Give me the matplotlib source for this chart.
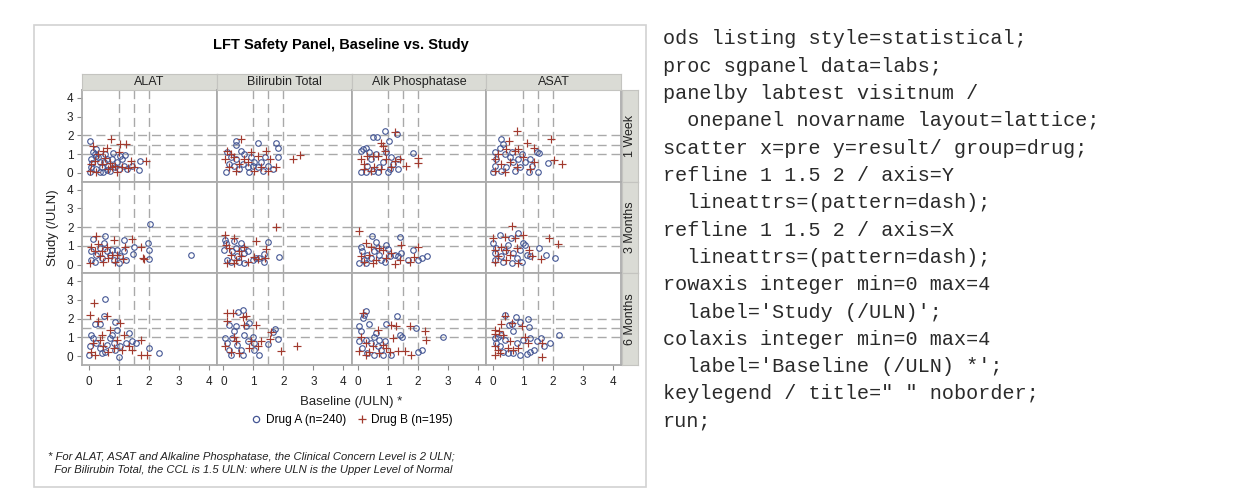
import matplotlib
matplotlib.use('Agg')
import matplotlib.pyplot as plt
from matplotlib.lines import Line2D
from matplotlib.patches import Rectangle

# panel categories
tests = ['ALAT', 'Bilirubin Total', 'Alk Phosphatase', 'ASAT']
visits = ['1 Week', '3 Months', '6 Months']
ref_values = [1, 1.5, 2]
axis_ticks = [0, 1, 2, 3, 4]
legend_labels = ['Drug A (n=240)', 'Drug B (n=195)']

# (baseline, study) points, one list per panel and drug
alat_w1_a = [(0.03, 1.70), (0.15, 1.12), (0.26, 1.26), (0.20, 1.00), (0.09, 0.74), (0.07, 0.30), (0.03, 0.03),
             (0.32, 0.82), (0.38, 0.56), (0.43, 0.30), (0.49, 0.03), (0.55, 1.00), (0.60, 0.74), (0.66, 0.39),
             (0.77, 0.74), (0.89, 0.30), (0.94, 0.56), (1.06, 0.91), (1.11, 0.74), (1.20, 0.95), (1.17, 0.39),
             (1.28, 0.21), (1.45, 0.39), (1.70, 0.61), (1.68, 0.16), (0.38, 0.03), (0.26, 0.21), (0.72, 0.12),
             (1.00, 0.21), (0.12, 0.50), (0.50, 0.60), (0.82, 1.05), (0.25, 0.90), (0.62, 0.15)]
alat_w1_b = [(0.75, 1.82), (1.06, 1.53), (1.26, 1.53), (0.15, 1.44), (0.60, 1.35), (0.49, 1.18), (1.00, 1.09),
             (0.09, 0.47), (0.20, 0.65), (0.43, 0.47), (0.77, 0.30), (0.89, 0.39), (1.40, 0.61), (1.51, 0.30),
             (1.91, 0.65), (0.03, 0.12), (0.26, 0.03), (0.66, 0.21), (1.11, 0.30), (0.55, 0.79), (0.32, 1.00),
             (0.95, 0.05), (1.30, 0.25), (0.70, 0.55)]
bili_w1_a = [(0.41, 1.70), (0.43, 1.49), (1.15, 1.58), (1.77, 1.58), (1.83, 1.35), (1.83, 0.82), (0.13, 1.09),
             (0.24, 0.82), (0.10, 0.03), (0.35, 0.39), (0.64, 0.47), (0.58, 1.18), (0.69, 1.00), (0.92, 0.82),
             (0.98, 0.39), (0.86, 0.03), (1.15, 0.30), (1.26, 0.56), (1.38, 0.82), (1.49, 0.39), (1.66, 0.21),
             (1.32, 0.12), (1.03, 0.56), (0.81, 0.30), (0.52, 0.21), (0.18, 0.47), (0.41, 0.74)]
bili_w1_b = [(0.58, 1.79), (1.43, 1.14), (2.31, 0.74), (2.55, 0.95), (0.13, 1.18), (0.24, 1.00), (0.07, 0.74),
             (0.35, 0.82), (0.18, 0.30), (0.41, 0.12), (0.69, 0.74), (0.81, 0.56), (1.03, 0.12), (1.26, 0.30),
             (1.49, 0.12), (1.77, 0.30), (1.55, 0.74), (0.92, 1.09), (0.52, 0.47), (1.15, 0.91)]
alkp_w1_a = [(0.90, 2.23), (0.48, 1.91), (0.63, 1.91), (1.02, 1.70), (1.30, 2.05), (1.82, 1.04), (0.08, 1.18),
             (0.16, 1.26), (0.25, 1.35), (0.36, 1.09), (0.08, 0.03), (0.25, 0.03), (0.48, 0.12), (0.70, 0.30),
             (0.99, 0.03), (1.16, 0.47), (1.33, 0.74), (1.10, 0.82), (0.93, 1.09), (0.59, 1.00), (0.31, 0.39),
             (0.82, 0.56), (1.33, 0.21), (0.65, 0.03), (0.42, 0.74), (1.05, 0.21)]
alkp_w1_b = [(1.22, 2.18), (0.76, 1.61), (0.88, 1.18), (0.08, 0.74), (0.20, 0.47), (0.31, 0.91), (0.48, 0.91),
             (0.65, 0.91), (0.53, 0.30), (0.76, 0.21), (0.93, 0.74), (1.22, 0.65), (1.39, 0.74), (1.61, 0.39),
             (2.01, 0.79), (2.01, 0.51), (0.42, 0.12), (0.20, 0.21), (1.10, 0.30), (0.82, 1.44)]
asat_w1_a = [(0.28, 1.79), (0.34, 1.53), (0.25, 1.35), (0.06, 1.09), (0.11, 0.74), (0.06, 0.39), (0.00, 0.03),
             (0.40, 1.00), (0.57, 0.82), (0.68, 0.56), (0.85, 0.74), (0.91, 0.30), (0.74, 0.12), (1.08, 0.56),
             (1.19, 0.03), (1.25, 0.74), (1.48, 1.09), (1.53, 1.04), (1.50, 0.03), (1.84, 0.51), (0.45, 0.30),
             (0.63, 1.09), (0.28, 0.12), (0.97, 1.00), (1.31, 0.39)]
asat_w1_b = [(0.80, 2.23), (0.55, 1.70), (1.14, 1.58), (1.36, 1.35), (1.95, 1.79), (2.05, 0.68), (2.30, 0.47),
             (0.06, 0.74), (0.17, 1.00), (0.45, 1.26), (0.74, 1.18), (0.85, 1.26), (0.28, 0.47), (0.06, 0.12),
             (0.40, 0.03), (0.80, 0.30), (1.02, 0.82), (1.25, 0.21), (1.36, 0.56), (0.57, 0.56)]

alat_m3_a = [(2.06, 2.16), (1.99, 1.14), (2.02, 0.75), (2.00, 0.29), (1.51, 0.91), (1.49, 0.57), (3.41, 0.52),
             (1.19, 1.32), (0.13, 1.36), (0.55, 1.50), (0.52, 1.14), (0.09, 0.70), (0.07, 0.25), (0.26, 0.52),
             (0.38, 0.88), (0.43, 0.34), (0.60, 0.70), (0.72, 0.52), (0.77, 0.79), (0.83, 0.25), (1.00, 0.07),
             (1.06, 0.43), (1.17, 0.70), (1.23, 0.25), (0.94, 0.79), (0.20, 0.16)]
alat_m3_b = [(0.24, 1.54), (0.32, 1.11), (0.83, 1.32), (1.45, 1.36), (1.74, 0.96), (1.85, 0.29), (1.80, 0.34),
             (0.09, 0.96), (0.03, 0.07), (0.20, 0.70), (0.38, 0.43), (0.49, 0.16), (0.66, 0.34), (0.77, 0.52),
             (0.89, 0.16), (1.14, 0.29), (1.20, 0.93), (0.60, 0.96), (0.43, 0.70), (0.94, 0.52)]
bili_m3_a = [(0.07, 1.32), (0.10, 1.14), (0.03, 0.79), (0.13, 0.25), (0.35, 1.23), (0.58, 1.14), (0.64, 0.88),
             (0.69, 0.61), (0.47, 0.43), (0.24, 0.16), (0.52, 0.16), (0.69, 0.07), (0.83, 0.70), (0.98, 0.25),
             (1.09, 0.34), (1.20, 0.34), (1.34, 0.57), (1.35, 0.11), (1.49, 1.18), (1.86, 0.39), (0.30, 0.70),
             (0.41, 0.88)]
bili_m3_b = [(0.05, 1.59), (0.35, 1.41), (1.74, 2.00), (1.43, 0.84), (1.09, 1.23), (0.10, 1.05), (0.18, 0.88),
             (0.24, 0.52), (0.13, 0.07), (0.41, 0.25), (0.58, 0.43), (0.81, 0.16), (1.03, 0.39), (1.15, 0.29),
             (1.38, 0.34), (0.52, 0.70), (0.69, 0.96), (0.35, 0.07)]
alkp_m3_a = [(0.45, 1.50), (0.59, 1.18), (0.93, 1.05), (0.99, 0.82), (1.41, 1.46), (1.84, 0.75), (2.30, 0.43),
             (0.08, 0.96), (0.14, 0.70), (0.02, 0.07), (0.19, 0.25), (0.31, 0.52), (0.42, 0.34), (0.53, 0.70),
             (0.70, 0.52), (0.76, 0.25), (0.88, 0.11), (1.05, 0.43), (1.22, 0.52), (1.33, 0.43), (1.44, 0.61),
             (1.67, 0.25), (2.01, 0.25), (2.13, 0.34), (0.25, 0.07), (0.65, 0.88)]
alkp_m3_b = [(0.02, 1.77), (0.25, 1.14), (0.42, 0.96), (0.70, 0.88), (0.82, 0.75), (1.44, 1.05), (2.01, 0.96),
             (1.39, 0.25), (1.22, 0.04), (1.73, 0.11), (1.86, 0.39), (0.08, 0.43), (0.19, 0.16), (0.36, 0.52),
             (0.59, 0.25), (0.93, 0.34), (1.10, 0.61), (0.48, 0.07)]
asat_m3_a = [(0.23, 1.59), (0.60, 1.41), (0.85, 1.68), (0.00, 1.14), (0.11, 0.88), (0.06, 0.61), (0.06, 0.25),
             (0.28, 0.43), (0.40, 0.70), (0.51, 1.05), (0.68, 0.61), (0.80, 0.34), (0.63, 0.07), (0.91, 0.79),
             (1.02, 1.14), (1.08, 1.05), (1.14, 0.52), (1.25, 0.43), (1.53, 0.88), (1.76, 0.52), (2.07, 0.34),
             (0.34, 0.16), (0.97, 0.16)]
asat_m3_b = [(0.63, 2.07), (0.00, 1.41), (0.40, 1.46), (0.74, 1.41), (1.02, 1.59), (1.88, 1.41), (2.18, 1.11),
             (1.59, 0.29), (0.06, 0.79), (0.17, 0.43), (0.06, 0.16), (0.28, 0.96), (0.45, 0.25), (0.57, 0.52),
             (0.80, 0.88), (0.85, 0.07), (1.19, 0.79), (1.31, 0.43), (0.45, 0.79)]

alat_m6_a = [(0.55, 3.07), (0.52, 2.16), (0.38, 1.73), (0.20, 1.71), (0.89, 1.80), (0.94, 1.41), (0.07, 1.14),
             (0.15, 0.96), (0.03, 0.52), (0.00, 0.07), (0.26, 0.70), (0.38, 0.43), (0.43, 0.16), (0.60, 0.61),
             (0.72, 0.96), (0.77, 1.14), (0.83, 0.70), (1.00, -0.02), (1.06, 0.52), (1.23, 0.70), (1.36, 1.23),
             (1.45, 0.79), (1.59, 0.70), (2.02, 0.46), (2.34, 0.16), (0.55, 0.25), (0.89, 0.34)]
alat_m6_b = [(0.18, 2.84), (0.06, 2.21), (0.60, 2.13), (0.32, 1.86), (0.72, 1.41), (1.06, 1.77), (1.17, 1.14),
             (1.74, 0.88), (1.74, 0.07), (1.93, 0.07), (0.15, 0.70), (0.09, 0.25), (0.20, 0.07), (0.38, 0.88),
             (0.49, 0.52), (0.66, 0.25), (0.83, 0.43), (1.11, 0.34), (1.34, 0.52), (1.45, 0.34), (0.94, 0.88),
             (0.43, 1.14)]
bili_m6_a = [(0.64, 2.48), (0.49, 2.34), (0.86, 1.77), (0.75, 1.59), (0.18, 1.64), (0.35, 1.36), (0.41, 1.59),
             (1.72, 1.45), (1.83, 0.93), (1.66, 1.29), (1.49, 0.64), (0.07, 0.96), (0.13, 0.70), (0.18, 0.34),
             (0.24, 0.07), (0.47, 0.61), (0.58, 0.34), (0.64, 0.07), (0.81, 0.79), (0.98, 1.05), (1.01, 0.70),
             (1.03, 0.34), (1.20, 0.04), (0.30, 0.96), (0.69, 1.14)]
bili_m6_b = [(0.13, 2.30), (0.32, 2.30), (0.77, 2.16), (0.64, 2.09), (0.13, 1.86), (1.09, 1.64), (0.69, 1.64),
             (1.55, 0.91), (1.92, 0.29), (2.47, 0.52), (1.60, 1.29), (0.07, 0.52), (0.24, 0.25), (0.41, 0.79),
             (0.52, 0.16), (0.86, 0.43), (0.92, 0.79), (1.15, 0.52), (1.26, 0.79), (0.35, 1.05)]
alkp_m6_a = [(0.25, 2.43), (0.19, 2.18), (0.16, 2.04), (0.36, 1.73), (0.93, 1.73), (1.30, 2.13), (1.93, 1.50),
             (1.39, 1.14), (1.47, 1.05), (2.84, 1.00), (2.13, 0.34), (2.01, 0.20), (0.02, 1.59), (0.08, 1.32),
             (0.02, 0.79), (0.14, 0.43), (0.31, 0.16), (0.42, 0.70), (0.53, 1.05), (0.59, 1.23), (0.65, 0.52),
             (0.76, 0.34), (0.53, 0.07), (0.82, 0.04), (1.10, 0.04), (0.88, 0.79), (0.70, 0.88), (0.25, 0.88)]
alkp_m6_b = [(0.16, 2.30), (1.10, 1.64), (1.27, 1.59), (1.73, 1.63), (2.24, 1.36), (2.26, 0.88), (1.16, 0.96),
             (1.56, 0.29), (1.75, 0.07), (1.33, 0.29), (0.08, 1.05), (0.02, 0.30), (0.25, 0.70), (0.36, 0.25),
             (0.48, 0.52), (0.65, 1.41), (0.82, 0.61), (0.93, 0.43), (1.05, 0.25), (0.25, 0.07), (0.70, 0.16)]
asat_m6_a = [(0.40, 2.18), (0.77, 2.07), (0.91, 1.82), (1.16, 1.98), (1.19, 1.54), (0.65, 1.73), (0.55, 1.68),
             (0.66, 1.32), (2.22, 1.14), (1.90, 0.70), (1.70, 0.52), (1.59, 0.96), (1.48, 0.79), (0.06, 0.96),
             (0.11, 0.70), (0.17, 1.05), (0.28, 1.14), (0.40, 0.88), (0.34, 0.25), (0.51, 0.16), (0.68, 0.16),
             (0.91, 0.07), (1.14, 0.11), (1.25, 0.25), (1.36, 0.34), (0.80, 0.70), (1.02, 0.88), (1.25, 0.96),
             (0.23, 0.52)]
asat_m6_b = [(0.40, 2.13), (0.65, 1.77), (0.26, 1.73), (0.06, 1.41), (0.06, 1.18), (0.20, 1.32), (0.34, 1.14),
             (0.97, 1.59), (1.08, 1.05), (1.17, 0.70), (1.64, 0.70), (1.63, -0.02), (0.06, 0.52), (0.17, 0.34),
             (0.23, 0.16), (0.51, 0.43), (0.68, 0.34), (0.85, 0.43), (0.57, 0.79), (0.06, 0.07)]

drug_a = [[alat_w1_a, bili_w1_a, alkp_w1_a, asat_w1_a],
          [alat_m3_a, bili_m3_a, alkp_m3_a, asat_m3_a],
          [alat_m6_a, bili_m6_a, alkp_m6_a, asat_m6_a]]
drug_b = [[alat_w1_b, bili_w1_b, alkp_w1_b, asat_w1_b],
          [alat_m3_b, bili_m3_b, alkp_m3_b, asat_m3_b],
          [alat_m6_b, bili_m6_b, alkp_m6_b, asat_m6_b]]

code_lines = [
    'ods listing style=statistical;',
    'proc sgpanel data=labs;',
    'panelby labtest visitnum /',
    '  onepanel novarname layout=lattice;',
    'scatter x=pre y=result/ group=drug;',
    'refline 1 1.5 2 / axis=Y',
    '  lineattrs=(pattern=dash);',
    'refline 1 1.5 2 / axis=X',
    '  lineattrs=(pattern=dash);',
    'rowaxis integer min=0 max=4',
    "  label='Study (/ULN)';",
    'colaxis integer min=0 max=4',
    "  label='Baseline (/ULN) *';",
    'keylegend / title=" " noborder;',
    'run;',
]

BLUE = '#445694'
RED = '#A23A2E'
W, H = 1248, 495
plt.rcParams['font.family'] = ['Liberation Sans', 'DejaVu Sans']

fig = plt.figure(figsize=(W / 100, H / 100), dpi=100)


def fx(px):
    return px / W


def fy(py):
    return 1 - py / H


# light frame around the graph
fig.patches.append(Rectangle((fx(34), fy(487)), (646 - 34) / W, (487 - 25) / H,
                             transform=fig.transFigure, fill=False,
                             edgecolor='#d2d2d2', linewidth=1.2))

fig.text(fx(341), fy(45), 'LFT Safety Panel, Baseline vs. Study', ha='center', va='center',
         fontsize=10.5, fontweight='bold')

left, right, top, bottom = 82, 621, 90, 365
pw = (right - left) / 4
ph = (bottom - top) / 3

for r, visit in enumerate(visits):
    for c, test in enumerate(tests):
        ax = fig.add_axes([fx(left + c * pw), fy(top + (r + 1) * ph), pw / W, ph / H])
        ax.set_xlim(-0.22, 4.27)
        ax.set_ylim(-0.47, 4.42)
        for v in ref_values:
            ax.axvline(v, color='#a9a9a9', linewidth=1.0, dashes=(6.5, 3.5), zorder=1)
            ax.axhline(v, color='#a9a9a9', linewidth=1.0, dashes=(6.5, 3.5), zorder=1)
        pa = drug_a[r][c]
        pb = drug_b[r][c]
        ax.plot([p[0] for p in pa], [p[1] for p in pa], linestyle='none', marker='o',
                markersize=4.0, markerfacecolor='none', markeredgecolor=BLUE,
                markeredgewidth=0.8, zorder=3)
        ax.plot([p[0] for p in pb], [p[1] for p in pb], linestyle='none', marker='+',
                markersize=5.3, markeredgecolor=RED, markeredgewidth=0.85, zorder=3)
        for s in ax.spines.values():
            s.set_color('#ababab')
            s.set_linewidth(1.3)
        ax.set_xticks(axis_ticks)
        ax.set_yticks(axis_ticks)
        ax.tick_params(axis='x', length=3.6, width=0.8, color='#8c8c8c', labelsize=8.5,
                       labelcolor='#222222', pad=4,
                       bottom=(r == 2), labelbottom=(r == 2))
        ax.tick_params(axis='y', length=3.6, width=0.8, color='#8c8c8c', labelsize=8.5,
                       labelcolor='#222222', pad=2.5,
                       left=(c == 0), labelleft=(c == 0))
        if r == 0:
            hx = fig.add_axes([fx(left + c * pw), fy(top), pw / W, 16 / H])
            hx.set_facecolor('#dadbd5')
            hx.set_xticks([])
            hx.set_yticks([])
            for s in hx.spines.values():
                s.set_color('#c4c4c0')
            hx.text(0.5, 0.5, test, ha='center', va='center', fontsize=9.0,
                    color='#222222', transform=hx.transAxes)
    sx = fig.add_axes([fx(622), fy(top + (r + 1) * ph), 16 / W, ph / H])
    sx.set_facecolor('#dadbd5')
    sx.set_xticks([])
    sx.set_yticks([])
    for s in sx.spines.values():
        s.set_color('#c4c4c0')
    sx.text(0.5, 0.5, visit, ha='center', va='center', rotation=90, fontsize=9.0,
            color='#222222', transform=sx.transAxes)

fig.text(fx(53), fy((top + bottom) / 2), 'Study (/ULN)', rotation=90, ha='center', va='center',
         fontsize=9.5, color='#222222')
fig.text(fx((left + right) / 2), fy(402), 'Baseline (/ULN) *', ha='center', va='center',
         fontsize=9.5, color='#222222')

handles = [Line2D([], [], linestyle='none', marker='o', markersize=4.5, markerfacecolor='none',
                  markeredgecolor=BLUE, markeredgewidth=0.9),
           Line2D([], [], linestyle='none', marker='+', markersize=6, markeredgecolor=RED,
                  markeredgewidth=0.9)]
fig.legend(handles, legend_labels, loc='center', bbox_to_anchor=(fx((left + right) / 2), fy(420)),
           ncol=2, frameon=False, fontsize=8.6, handletextpad=0.3, columnspacing=0.8,
           handlelength=1.0, borderaxespad=0, borderpad=0)

fig.text(fx(48), fy(457), '* For ALAT, ASAT and Alkaline Phosphatase, the Clinical Concern Level is 2 ULN;',
         ha='left', va='center', fontsize=8.1, style='italic', color='#222222')
fig.text(fx(48), fy(470), '  For Bilirubin Total, the CCL is 1.5 ULN: where ULN is the Upper Level of Normal',
         ha='left', va='center', fontsize=8.1, style='italic', color='#222222')

for i, line in enumerate(code_lines):
    fig.text(fx(663), fy(39 + i * 27.3), line, ha='left', va='center',
             family='Liberation Mono', fontsize=14.5, color='#2a2a2a')

fig.savefig('out.png', dpi=100)
